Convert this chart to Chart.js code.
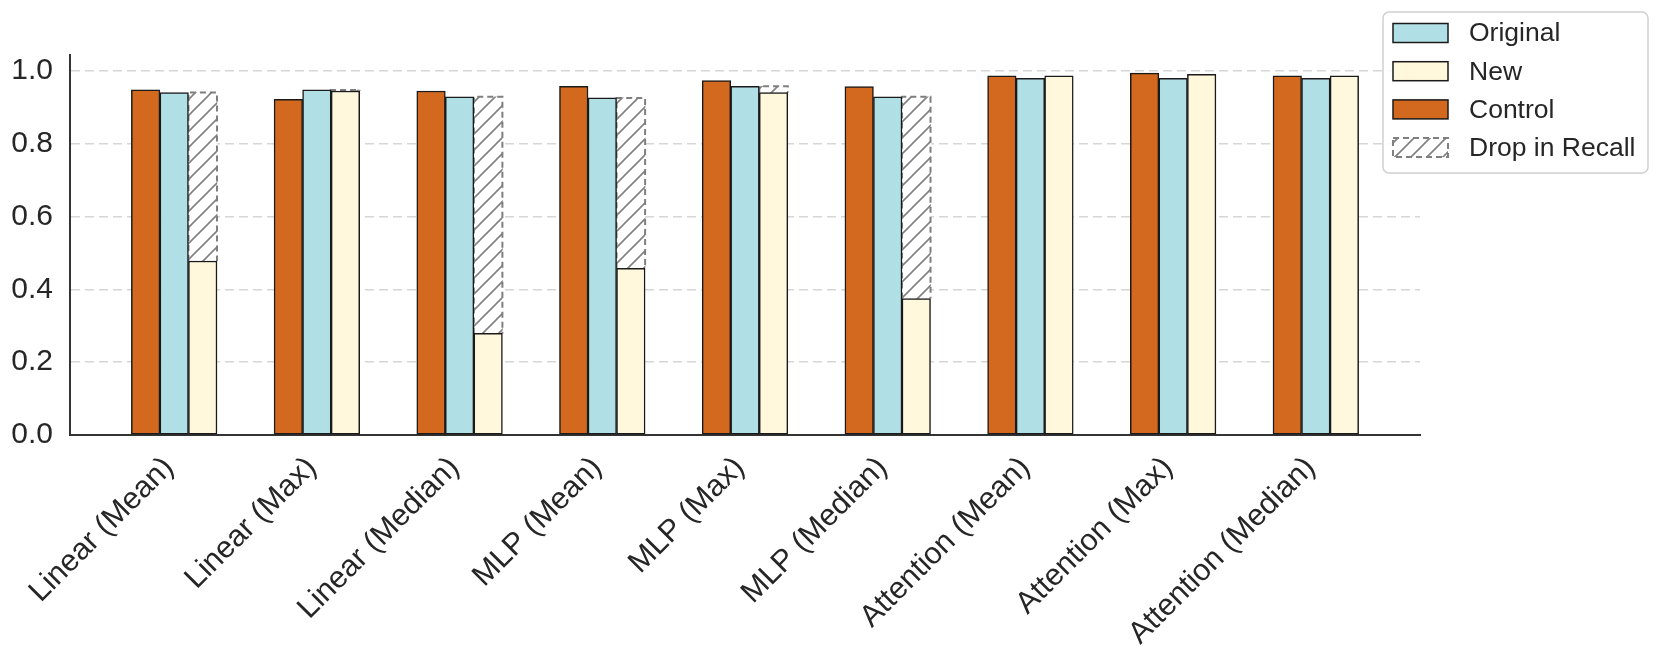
<!DOCTYPE html>
<html>
<head>
<meta charset="utf-8">
<script src="https://cdn.jsdelivr.net/npm/chart.js@4.4.1/dist/chart.umd.min.js"></script>
<style>
    html, body { margin: 0; padding: 0; background: #fff; }
    #wrap { width: 1661px; height: 659px; }
</style>
</head>
<body>
<div id="wrap"><canvas id="chart" width="1661" height="659"></canvas></div>
<script>
// Valores
const categories = [
    'Linear (Mean)', 'Linear (Max)', 'Linear (Median)',
    'MLP (Mean)', 'MLP (Max)', 'MLP (Median)',
    'Attention (Mean)', 'Attention (Max)', 'Attention (Median)'
];
const controlVals  = [0.948, 0.922, 0.945, 0.958, 0.974, 0.957, 0.987, 0.994, 0.987];
const originalVals = [0.941, 0.948, 0.929, 0.926, 0.958, 0.929, 0.980, 0.980, 0.980];
const newVals      = [0.478, 0.945, 0.279, 0.458, 0.941, 0.375, 0.987, 0.991, 0.987];
const yTicks = [0, 0.2, 0.4, 0.6, 0.8, 1.0];
const legendLabels = ['Original', 'New', 'Control', 'Drop in Recall'];

const FONT = '"Liberation Sans", Arial, sans-serif';
const TEXT = '#262626';
const COLORS = { control: '#D2691E', original: '#B0E0E6', novo: '#FFF8DC' };

// Hachura "//" para a queda de recall
function criarHachura() {
    const s = 16;
    const c = document.createElement('canvas');
    c.width = s; c.height = s;
    const g = c.getContext('2d');
    g.fillStyle = '#ffffff';
    g.fillRect(0, 0, s, s);
    g.strokeStyle = '#808080';
    g.lineWidth = 1.6;
    g.beginPath();
    g.moveTo(0, s); g.lineTo(s, 0);
    g.moveTo(-s / 2, s / 2); g.lineTo(s / 2, -s / 2);
    g.moveTo(s / 2, s * 1.5); g.lineTo(s * 1.5, s / 2);
    g.stroke();
    return g.createPattern(c, 'repeat');
}
const hachura = criarHachura();

// Pontos das barras (posição no eixo = índice da categoria +- largura)
const W = 0.2;
const controlData  = controlVals.map((v, i) => ({ x: i - W, y: v }));
const originalData = originalVals.map((v, i) => ({ x: i, y: v }));
const newData      = newVals.map((v, i) => ({ x: i + W, y: v }));
const dropData = [];
originalVals.forEach((o, i) => {
    if (o > newVals[i]) dropData.push({ x: i + W, y: [newVals[i], o] });
});

const barBase = {
    grouped: false,
    categoryPercentage: 1,
    barPercentage: 1,
    borderColor: '#1a1a1a',
    borderWidth: 1.5,
    borderSkipped: false
};

// Contorno tracejado da queda (desenhado logo após o próprio dataset)
const dropOutline = {
    id: 'dropOutline',
    afterDatasetDraw(chart, args) {
        if (args.index !== 3) return;
        const ctx = chart.ctx;
        ctx.save();
        ctx.strokeStyle = '#7f7f7f';
        ctx.lineWidth = 2;
        ctx.setLineDash([6, 4]);
        args.meta.data.forEach(bar => {
            const { x, y, base, width } = bar.getProps(['x', 'y', 'base', 'width'], true);
            const l = x - width / 2, r = x + width / 2;
            ctx.beginPath();
            ctx.moveTo(l, base);
            ctx.lineTo(l, y);
            ctx.lineTo(r, y);
            ctx.lineTo(r, base);
            ctx.stroke();
        });
        ctx.restore();
    }
};

// Rótulos do eixo x girados 45 graus
const xLabels = {
    id: 'xLabels',
    afterDraw(chart) {
        const { ctx, chartArea } = chart;
        const x = chart.scales.x;
        ctx.save();
        ctx.font = '30.5px ' + FONT;
        ctx.fillStyle = TEXT;
        ctx.textAlign = 'right';
        ctx.textBaseline = 'top';
        categories.forEach((c, i) => {
            const px = x.getPixelForValue(i);
            ctx.save();
            ctx.translate(px - 16, chartArea.bottom + 17);
            ctx.rotate(-Math.PI / 4);
            ctx.fillText(c, 0, 0);
            ctx.restore();
        });
        ctx.restore();
    }
};

// Legenda no canto superior direito
const boxLegend = {
    id: 'boxLegend',
    afterDraw(chart) {
        const ctx = chart.ctx;
        ctx.save();
        ctx.beginPath();
        ctx.roundRect(1383, 12, 265, 161, 6);
        ctx.fillStyle = 'rgba(255,255,255,0.85)';
        ctx.fill();
        ctx.strokeStyle = '#d0d0d0';
        ctx.lineWidth = 1.5;
        ctx.stroke();

        const fills = [COLORS.original, COLORS.novo, COLORS.control, hachura];
        ctx.font = '26.5px ' + FONT;
        ctx.textBaseline = 'middle';
        ctx.textAlign = 'left';
        legendLabels.forEach((lbl, k) => {
            const cy = 33 + k * 38.2;
            ctx.fillStyle = fills[k];
            ctx.fillRect(1393, cy - 9.5, 55, 19);
            if (k === 3) {
                ctx.strokeStyle = '#7f7f7f';
                ctx.lineWidth = 2;
                ctx.setLineDash([6, 4]);
            } else {
                ctx.strokeStyle = '#1a1a1a';
                ctx.lineWidth = 1.5;
                ctx.setLineDash([]);
            }
            ctx.strokeRect(1393, cy - 9.5, 55, 19);
            ctx.setLineDash([]);
            ctx.fillStyle = TEXT;
            ctx.fillText(lbl, 1469, cy + 1);
        });
        ctx.restore();
    }
};

Chart.defaults.font.family = FONT;

new Chart(document.getElementById('chart').getContext('2d'), {
    type: 'bar',
    data: {
        datasets: [
            { ...barBase, label: 'Control', data: controlData, backgroundColor: COLORS.control },
            { ...barBase, label: 'Original', data: originalData, backgroundColor: COLORS.original },
            { ...barBase, label: 'New', data: newData, backgroundColor: COLORS.novo },
            { ...barBase, label: 'Drop in Recall', data: dropData, backgroundColor: hachura, borderWidth: 0 }
        ]
    },
    options: {
        responsive: false,
        devicePixelRatio: 1,
        animation: false,
        layout: { padding: { top: 55, right: 241, left: 0, bottom: 0 } },
        plugins: {
            legend: { display: false },
            tooltip: { enabled: false }
        },
        scales: {
            x: {
                type: 'linear',
                offset: false,
                min: -0.73,
                max: 8.73,
                grid: { display: false, offset: false },
                border: { display: true, color: '#333333', width: 2 },
                ticks: { display: false },
                afterBuildTicks: s => { s.ticks = categories.map((c, i) => ({ value: i })); },
                afterFit: s => { s.height = 224; s.paddingLeft = 0; s.paddingRight = 0; }
            },
            y: {
                min: 0,
                max: 1.044,
                grid: { color: '#d6d6d6', lineWidth: 1.5, drawTicks: false },
                border: { display: true, color: '#333333', width: 2, dash: [9, 5] },
                ticks: {
                    padding: 17,
                    color: TEXT,
                    font: { size: 30 },
                    callback: v => v.toFixed(1)
                },
                afterBuildTicks: s => { s.ticks = yTicks.map(v => ({ value: v })); },
                afterFit: s => { s.width = 70; }
            }
        }
    },
    plugins: [dropOutline, xLabels, boxLegend]
});
</script>
</body>
</html>
